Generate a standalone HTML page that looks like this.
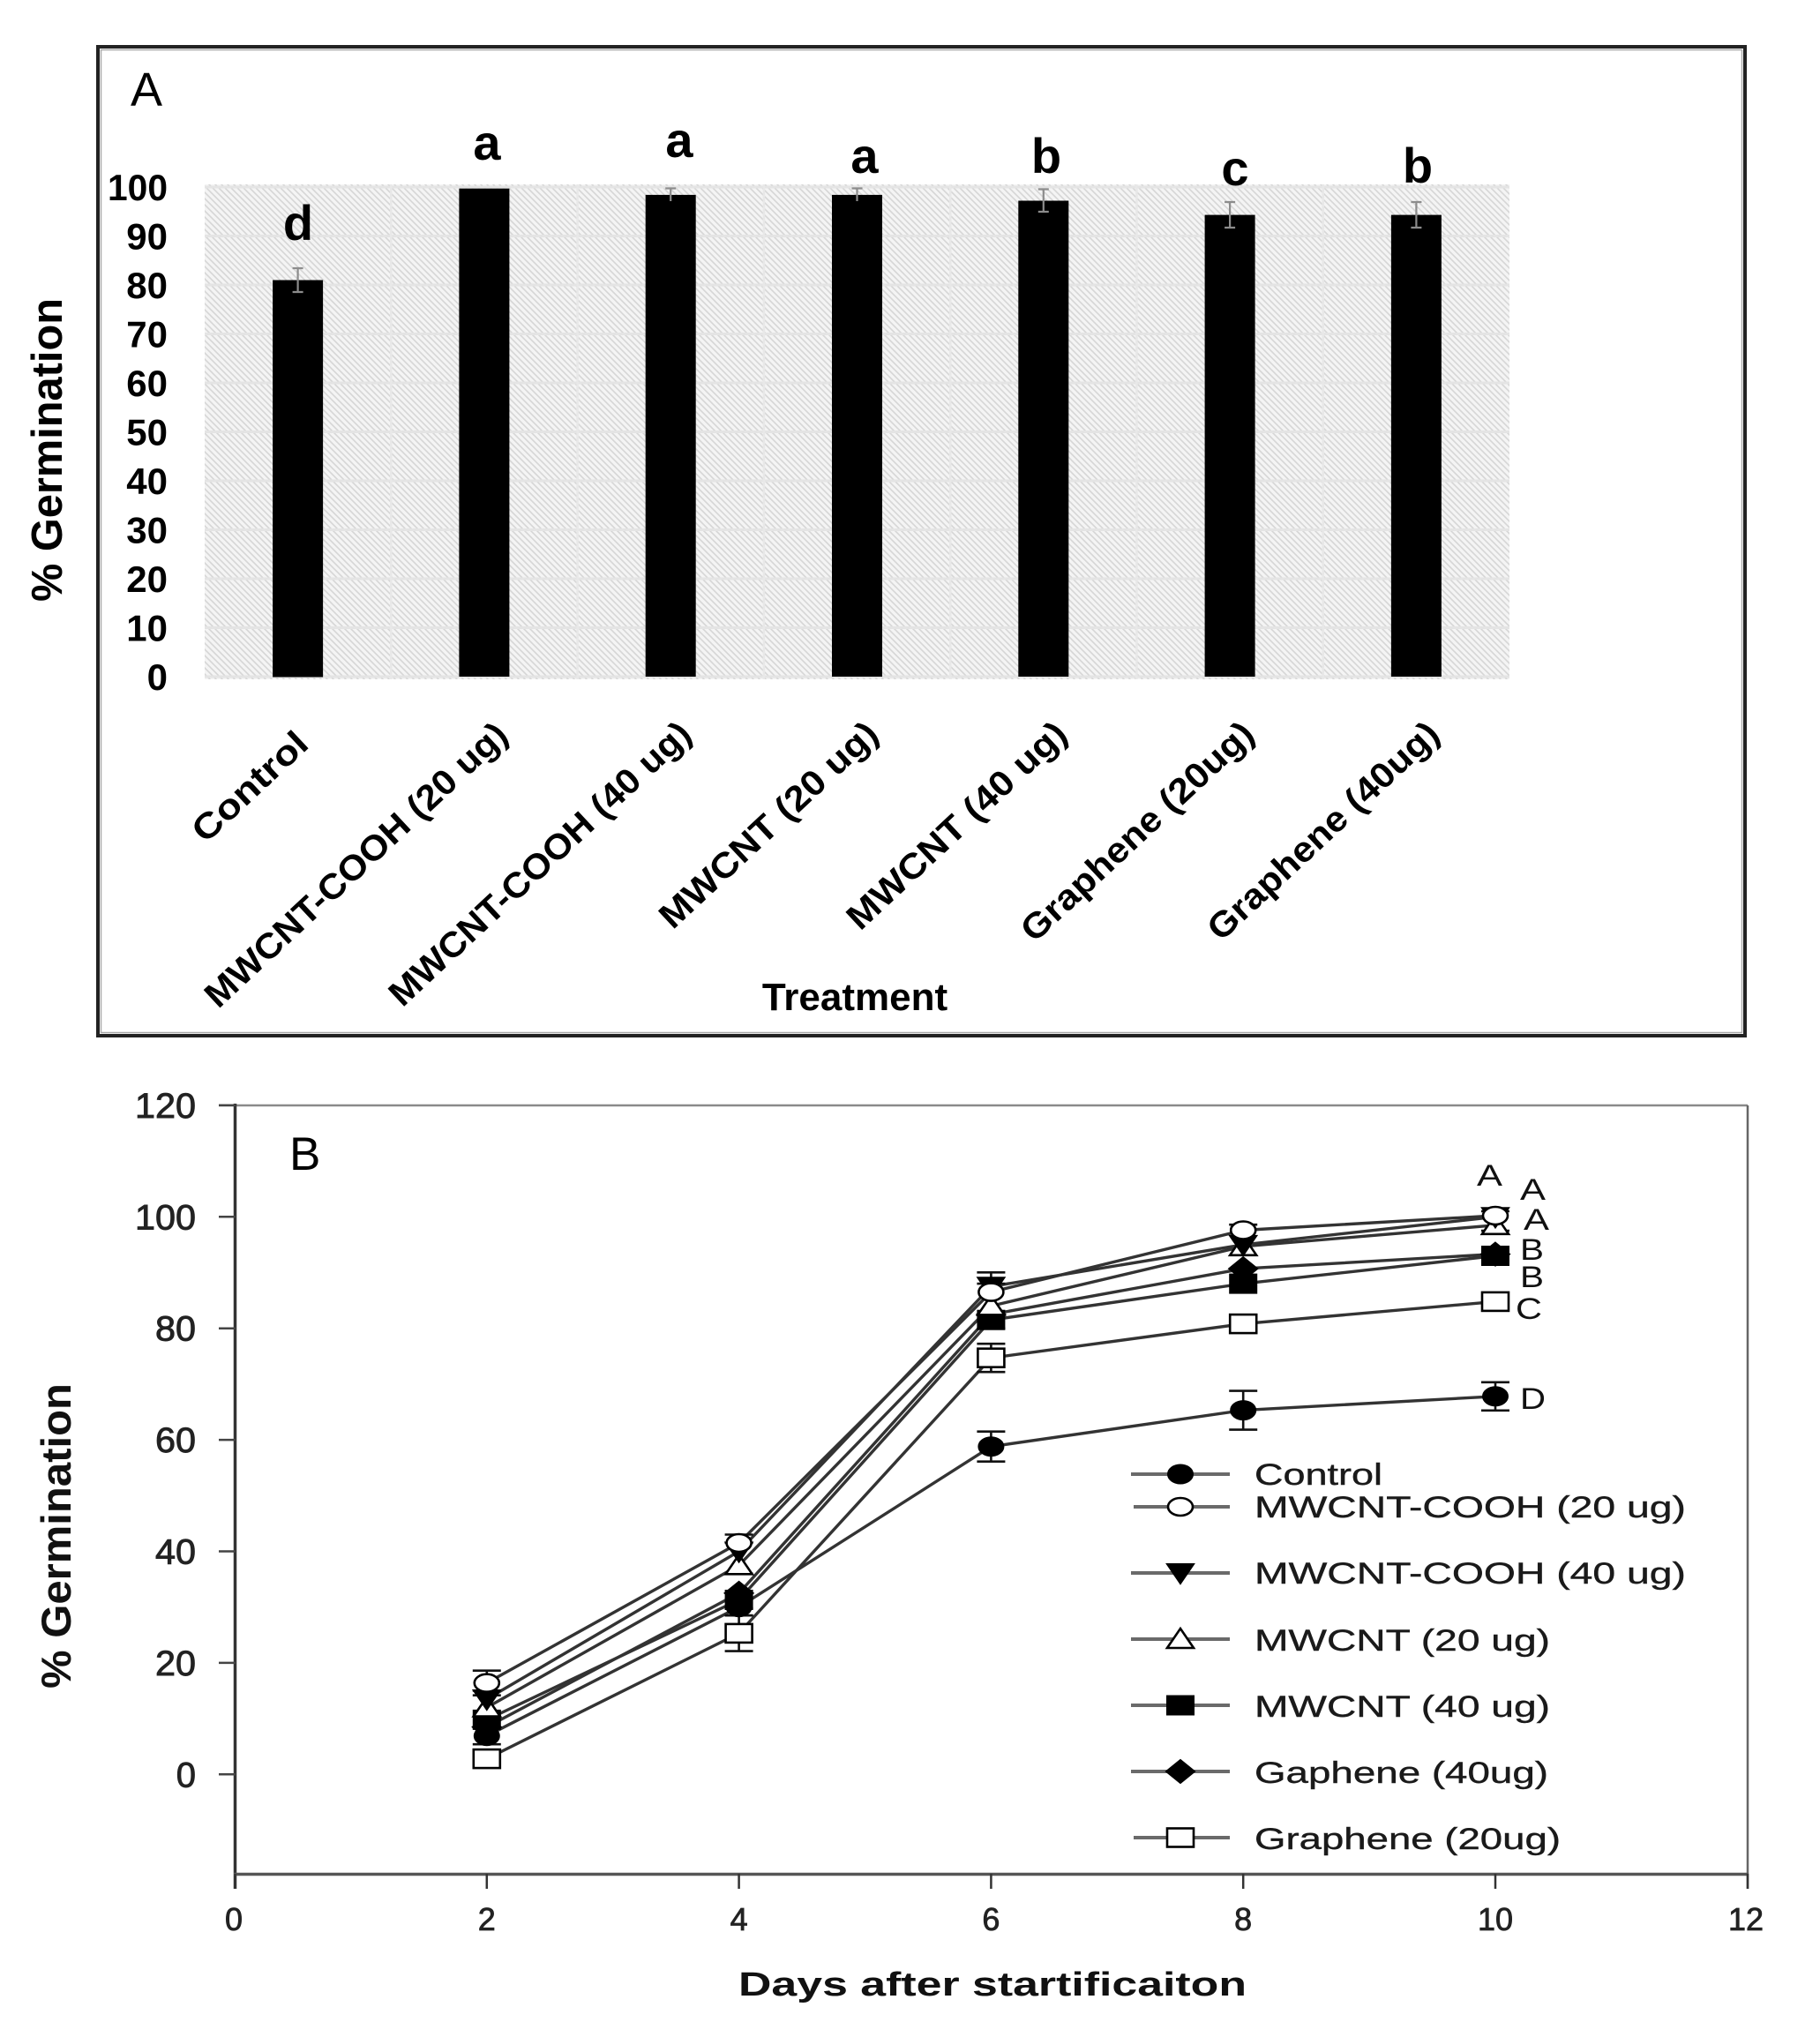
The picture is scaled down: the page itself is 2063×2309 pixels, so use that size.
<!DOCTYPE html>
<html><head><meta charset="utf-8"><style>
html,body{margin:0;padding:0;background:#fff;}
svg{display:block;}
</style></head><body>
<svg width="2063" height="2309" viewBox="0 0 2063 2309" xmlns="http://www.w3.org/2000/svg">
<defs>
<pattern id="hatch" width="7" height="7" patternUnits="userSpaceOnUse">
<rect width="7" height="7" fill="#f4f4f4"/>
<path d="M-1,6 L1,8 M0,0 L7,7 M6,-1 L8,1" stroke="#d6d6d6" stroke-width="1.6"/>
</pattern>
<ellipse id="mCircF" cx="0" cy="0" rx="14" ry="10.5" fill="#000" stroke="#000" stroke-width="2"/>
<ellipse id="mCircO" cx="0" cy="0" rx="14" ry="10" fill="#fff" stroke="#000" stroke-width="2.6"/>
<polygon id="mTriD" points="-15,-10 15,-10 0,12" fill="#000" stroke="#000" stroke-width="2"/>
<polygon id="mTriO" points="-15,10 15,10 0,-12" fill="#fff" stroke="#000" stroke-width="2.6"/>
<rect id="mSqF" x="-15" y="-10.5" width="30" height="21" fill="#000" stroke="#000" stroke-width="2"/>
<polygon id="mDia" points="0,-13 16,0 0,13 -16,0" fill="#000" stroke="#000" stroke-width="2"/>
<rect id="mSqO" x="-15" y="-10.5" width="30" height="21" fill="#fff" stroke="#000" stroke-width="2.6"/>
</defs>

<!-- ================= PANEL A ================= -->
<rect x="111" y="53" width="1867" height="1121" fill="#fff" stroke="#222" stroke-width="4"/>
<rect x="114.5" y="56.5" width="1860" height="1114" fill="none" stroke="#a8a8a8" stroke-width="1.5"/>

<text x="148" y="120" font-family="Liberation Sans, Arial, sans-serif" font-size="54" fill="#000">A</text>

<rect x="232" y="209" width="1479" height="561" fill="url(#hatch)"/>
<g stroke="#e4e4e4" stroke-width="3">
<line x1="232" y1="767" x2="1711" y2="767"/>
<line x1="232" y1="711.5" x2="1711" y2="711.5"/>
<line x1="232" y1="656" x2="1711" y2="656"/>
<line x1="232" y1="600.5" x2="1711" y2="600.5"/>
<line x1="232" y1="545" x2="1711" y2="545"/>
<line x1="232" y1="489.5" x2="1711" y2="489.5"/>
<line x1="232" y1="434" x2="1711" y2="434"/>
<line x1="232" y1="378.5" x2="1711" y2="378.5"/>
<line x1="232" y1="323" x2="1711" y2="323"/>
<line x1="232" y1="267.5" x2="1711" y2="267.5"/>
<line x1="232" y1="212" x2="1711" y2="212"/>
</g>
<g stroke="#e8e8e8" stroke-width="2.5">
<line x1="443.3" y1="209" x2="443.3" y2="770"/>
<line x1="654.6" y1="209" x2="654.6" y2="770"/>
<line x1="865.9" y1="209" x2="865.9" y2="770"/>
<line x1="1077.2" y1="209" x2="1077.2" y2="770"/>
<line x1="1288.4" y1="209" x2="1288.4" y2="770"/>
<line x1="1499.7" y1="209" x2="1499.7" y2="770"/>
</g>

<g fill="#000">
<rect x="309.1" y="317.5" width="57" height="450"/>
<rect x="520.4" y="213.7" width="57" height="553.3"/>
<rect x="731.7" y="220.9" width="57" height="546.1"/>
<rect x="943.0" y="220.9" width="57" height="546.1"/>
<rect x="1154.3" y="227.5" width="57" height="539.5"/>
<rect x="1365.6" y="243.6" width="57" height="523.4"/>
<rect x="1576.9" y="243.6" width="57" height="523.4"/>
</g>
<g stroke="#8c8c8c" stroke-width="2.2" fill="none">
<path d="M337.6 304V331M331.6 304H343.6M331.6 331H343.6"/>
<path d="M760.2 213.5V228M754.2 213.5H766.2"/>
<path d="M971.5 213.5V228M965.5 213.5H977.5"/>
<path d="M1182.8 214.5V240M1176.8 214.5H1188.8M1176.8 240H1188.8"/>
<path d="M1394.1 229V258M1388.1 229H1400.1M1388.1 258H1400.1"/>
<path d="M1605.4 229V258M1599.4 229H1611.4M1599.4 258H1611.4"/>
</g>

<g font-family="Liberation Sans, Arial, sans-serif" font-weight="bold" font-size="56" fill="#000" text-anchor="middle">
<text x="338" y="272">d</text>
<text x="552" y="181">a</text>
<text x="770" y="178">a</text>
<text x="980" y="196">a</text>
<text x="1186" y="196">b</text>
<text x="1400" y="210">c</text>
<text x="1607" y="207">b</text>
</g>

<g font-family="Liberation Sans, Arial, sans-serif" font-weight="bold" font-size="42" fill="#000" text-anchor="end">
<text x="190" y="782">0</text>
<text x="190" y="726.5">10</text>
<text x="190" y="671">20</text>
<text x="190" y="615.5">30</text>
<text x="190" y="560">40</text>
<text x="190" y="504.5">50</text>
<text x="190" y="449">60</text>
<text x="190" y="393.5">70</text>
<text x="190" y="338">80</text>
<text x="190" y="282.5">90</text>
<text x="190" y="227" textLength="68" lengthAdjust="spacingAndGlyphs">100</text>
</g>

<text transform="translate(70,510) rotate(-90)" text-anchor="middle" font-family="Liberation Sans, Arial, sans-serif" font-weight="bold" font-size="49" fill="#000" textLength="344" lengthAdjust="spacingAndGlyphs">% Germination</text>

<g font-family="Liberation Sans, Arial, sans-serif" font-weight="bold" font-size="40" fill="#000" text-anchor="end">
<text transform="translate(352,846) rotate(-43)" textLength="163" lengthAdjust="spacingAndGlyphs">Control</text>
<text transform="translate(578,836) rotate(-43)" textLength="452" lengthAdjust="spacingAndGlyphs">MWCNT-COOH (20 ug)</text>
<text transform="translate(786,835) rotate(-43)" textLength="451" lengthAdjust="spacingAndGlyphs">MWCNT-COOH (40 ug)</text>
<text transform="translate(998,835) rotate(-43)" textLength="322" lengthAdjust="spacingAndGlyphs">MWCNT (20 ug)</text>
<text transform="translate(1212,835) rotate(-43)" textLength="324" lengthAdjust="spacingAndGlyphs">MWCNT (40 ug)</text>
<text transform="translate(1424,835) rotate(-43)" textLength="344" lengthAdjust="spacingAndGlyphs">Graphene (20ug)</text>
<text transform="translate(1634,835) rotate(-43)" textLength="342" lengthAdjust="spacingAndGlyphs">Graphene (40ug)</text>
</g>
<text x="969" y="1145" text-anchor="middle" font-family="Liberation Sans, Arial, sans-serif" font-weight="bold" font-size="44" fill="#000">Treatment</text>

<!-- ================= PANEL B ================= -->
<line x1="248" y1="1253" x2="1981" y2="1253" stroke="#8a8a8a" stroke-width="2.5"/>
<line x1="1981" y1="1253" x2="1981" y2="2141" stroke="#666" stroke-width="2.5"/>
<line x1="266.5" y1="1251" x2="266.5" y2="2141" stroke="#333" stroke-width="3.5"/>
<line x1="265" y1="2124.5" x2="1982" y2="2124.5" stroke="#555" stroke-width="3.5"/>

<g stroke="#444" stroke-width="2.5">
<line x1="248" y1="2011.3" x2="267" y2="2011.3"/>
<line x1="248" y1="1884.9" x2="267" y2="1884.9"/>
<line x1="248" y1="1758.5" x2="267" y2="1758.5"/>
<line x1="248" y1="1632.1" x2="267" y2="1632.1"/>
<line x1="248" y1="1505.7" x2="267" y2="1505.7"/>
<line x1="248" y1="1379.3" x2="267" y2="1379.3"/>
<line x1="248" y1="1252.9" x2="267" y2="1252.9"/>
</g>
<g stroke="#333" stroke-width="2.5">
<line x1="266.5" y1="2124" x2="266.5" y2="2141"/>
<line x1="551.8" y1="2124" x2="551.8" y2="2141"/>
<line x1="837.6" y1="2124" x2="837.6" y2="2141"/>
<line x1="1123.4" y1="2124" x2="1123.4" y2="2141"/>
<line x1="1409.2" y1="2124" x2="1409.2" y2="2141"/>
<line x1="1695" y1="2124" x2="1695" y2="2141"/>
<line x1="1981" y1="2124" x2="1981" y2="2141"/>
</g>

<g font-family="Liberation Sans, Arial, sans-serif" font-size="40" fill="#222" stroke="#222" stroke-width="0.9" text-anchor="end">
<text x="222" y="2025.3">0</text>
<text x="222" y="1898.9" textLength="46" lengthAdjust="spacingAndGlyphs">20</text>
<text x="222" y="1772.5" textLength="46" lengthAdjust="spacingAndGlyphs">40</text>
<text x="222" y="1646.1" textLength="46" lengthAdjust="spacingAndGlyphs">60</text>
<text x="222" y="1519.7" textLength="46" lengthAdjust="spacingAndGlyphs">80</text>
<text x="222" y="1393.3" textLength="69" lengthAdjust="spacingAndGlyphs">100</text>
<text x="222" y="1266.9" textLength="69" lengthAdjust="spacingAndGlyphs">120</text>
</g>
<g font-family="Liberation Sans, Arial, sans-serif" font-size="36" fill="#222" stroke="#222" stroke-width="0.8" text-anchor="middle">
<text x="265" y="2188">0</text>
<text x="551.8" y="2188">2</text>
<text x="837.6" y="2188">4</text>
<text x="1123.4" y="2188">6</text>
<text x="1409.2" y="2188">8</text>
<text x="1695" y="2188">10</text>
<text x="1979" y="2188">12</text>
</g>

<text x="837" y="2262" font-family="Liberation Sans, Arial, sans-serif" font-weight="bold" font-size="38" fill="#111" textLength="576" lengthAdjust="spacingAndGlyphs">Days after startificaiton</text>
<text transform="translate(80,1741) rotate(-90)" text-anchor="middle" font-family="Liberation Sans, Arial, sans-serif" font-weight="bold" font-size="47" fill="#111" textLength="346" lengthAdjust="spacingAndGlyphs">% Germination</text>
<text x="328" y="1326" font-family="Liberation Sans, Arial, sans-serif" font-size="53" fill="#000">B</text>

<g fill="none" stroke="#333" stroke-width="3.4">
<polyline points="551.8,1967.7 837.6,1821.7 1123.4,1639.7 1409.2,1598.6 1695,1582.8"/>
<polyline points="551.8,1907.7 837.6,1749.0 1123.4,1464.6 1409.2,1394.5 1695,1378.0"/>
<polyline points="551.8,1926.0 837.6,1758.5 1123.4,1458.3 1409.2,1410.9 1695,1379.3"/>
<polyline points="551.8,1935.5 837.6,1774.3 1123.4,1480.4 1409.2,1412.8 1695,1388.8"/>
<polyline points="551.8,1949.4 837.6,1813.5 1123.4,1496.2 1409.2,1455.1 1695,1423.5"/>
<polyline points="551.8,1957.6 837.6,1805.9 1123.4,1489.9 1409.2,1438.1 1695,1421.6"/>
<polyline points="551.8,1993.6 837.6,1851.4 1123.4,1539.2 1409.2,1500.6 1695,1475.4"/>
</g>

<g fill="none" stroke="#111" stroke-width="2.6">
<path d="M551.8 1958.2V1977.2M535.8 1958.2H567.8M535.8 1977.2H567.8 M837.6 1812.2V1831.2M821.6 1812.2H853.6M821.6 1831.2H853.6 M1123.4 1622.7V1656.7M1107.4 1622.7H1139.4M1107.4 1656.7H1139.4 M1409.2 1576.6V1620.6M1393.2 1576.6H1425.2M1393.2 1620.6H1425.2 M1695 1566.8V1598.8M1679 1566.8H1711M1679 1598.8H1711"/>
<path d="M551.8 1893.7V1921.7M535.8 1893.7H567.8M535.8 1921.7H567.8 M837.6 1739.5V1758.5M821.6 1739.5H853.6 M1123.4 1455.1V1474.1M1107.4 1455.1H1139.4 M1409.2 1388.2V1400.8M1393.2 1388.2H1425.2 M1695 1373V1383M1679 1373H1711"/>
<path d="M551.8 1916.5V1935.5M535.8 1916.5H567.8 M837.6 1749V1768M821.6 1749H853.6 M1123.4 1442.3V1474.3M1107.4 1442.3H1139.4 M1409.2 1404.6V1417.2 M1695 1374.3V1384.3"/>
<path d="M551.8 1926V1945M535.8 1945H567.8 M837.6 1764.8V1783.8M821.6 1783.8H853.6 M1123.4 1470.9V1489.9 M1409.2 1406.5V1419.1 M1695 1382.5V1395.1M1679 1395.1H1711"/>
<path d="M551.8 1941.8V1957 M837.6 1804V1823M821.6 1823H853.6 M1123.4 1486.7V1505.7M1107.4 1505.7H1139.4 M1409.2 1448.8V1461.4 M1695 1417.2V1429.8"/>
<path d="M551.8 1950V1965.2 M837.6 1796.4V1815.4 M1123.4 1480.4V1499.4 M1409.2 1431.8V1444.4 M1695 1415.3V1427.9"/>
<path d="M551.8 1986V2001.2M535.8 2001.2H567.8 M837.6 1831.2V1871.6M821.6 1831.2H853.6M821.6 1871.6H853.6 M1123.4 1523.2V1555.2M1107.4 1523.2H1139.4M1107.4 1555.2H1139.4 M1409.2 1494.3V1506.9 M1695 1470.4V1480.4"/>
</g>

<use href="#mSqO" x="551.8" y="1993.6"/><use href="#mSqO" x="837.6" y="1851.4"/><use href="#mSqO" x="1123.4" y="1539.2"/><use href="#mSqO" x="1409.2" y="1500.6"/><use href="#mSqO" x="1695" y="1475.4"/>
<use href="#mCircF" x="551.8" y="1967.7"/><use href="#mCircF" x="837.6" y="1821.7"/><use href="#mCircF" x="1123.4" y="1639.7"/><use href="#mCircF" x="1409.2" y="1598.6"/><use href="#mCircF" x="1695" y="1582.8"/>
<use href="#mDia" x="551.8" y="1957.6"/><use href="#mDia" x="837.6" y="1805.9"/><use href="#mDia" x="1123.4" y="1489.9"/><use href="#mDia" x="1409.2" y="1438.1"/><use href="#mDia" x="1695" y="1421.6"/>
<use href="#mSqF" x="551.8" y="1949.4"/><use href="#mSqF" x="837.6" y="1813.5"/><use href="#mSqF" x="1123.4" y="1496.2"/><use href="#mSqF" x="1409.2" y="1455.1"/><use href="#mSqF" x="1695" y="1423.5"/>
<use href="#mTriO" x="551.8" y="1935.5"/><use href="#mTriO" x="837.6" y="1774.3"/><use href="#mTriO" x="1123.4" y="1480.4"/><use href="#mTriO" x="1409.2" y="1412.8"/><use href="#mTriO" x="1695" y="1388.8"/>
<use href="#mTriD" x="551.8" y="1926.0"/><use href="#mTriD" x="837.6" y="1758.5"/><use href="#mTriD" x="1123.4" y="1458.3"/><use href="#mTriD" x="1409.2" y="1410.9"/><use href="#mTriD" x="1695" y="1379.3"/>
<use href="#mCircO" x="551.8" y="1907.7"/><use href="#mCircO" x="837.6" y="1749.0"/><use href="#mCircO" x="1123.4" y="1464.6"/><use href="#mCircO" x="1409.2" y="1394.5"/><use href="#mCircO" x="1695" y="1378.0"/>

<g font-family="Liberation Sans, Arial, sans-serif" font-size="34" fill="#111">
<text x="1674" y="1344" textLength="29" lengthAdjust="spacingAndGlyphs">A</text>
<text x="1723" y="1360" textLength="29" lengthAdjust="spacingAndGlyphs">A</text>
<text x="1727" y="1394" textLength="29" lengthAdjust="spacingAndGlyphs">A</text>
<text x="1723" y="1428" textLength="27" lengthAdjust="spacingAndGlyphs">B</text>
<text x="1723" y="1459" textLength="27" lengthAdjust="spacingAndGlyphs">B</text>
<text x="1718" y="1495" textLength="30" lengthAdjust="spacingAndGlyphs">C</text>
<text x="1723" y="1597" textLength="29" lengthAdjust="spacingAndGlyphs">D</text>
</g>

<g stroke="#6a6a6a" stroke-width="4">
<line x1="1282" y1="1671" x2="1394" y2="1671"/>
<line x1="1285" y1="1708" x2="1394" y2="1708"/>
<line x1="1282" y1="1783" x2="1394" y2="1783"/>
<line x1="1282" y1="1858" x2="1394" y2="1858"/>
<line x1="1282" y1="1933" x2="1394" y2="1933"/>
<line x1="1282" y1="2008" x2="1394" y2="2008"/>
<line x1="1285" y1="2083" x2="1394" y2="2083"/>
</g>
<use href="#mCircF" x="1338" y="1671"/>
<use href="#mCircO" x="1338" y="1708"/>
<use href="#mTriD" x="1338" y="1783"/>
<use href="#mTriO" x="1338" y="1858"/>
<use href="#mSqF" x="1338" y="1933"/>
<use href="#mDia" x="1338" y="2008"/>
<use href="#mSqO" x="1338" y="2083"/>
<g font-family="Liberation Sans, Arial, sans-serif" font-size="34" fill="#1a1a1a" stroke="#1a1a1a" stroke-width="0.4">
<text x="1422" y="1683" textLength="145" lengthAdjust="spacingAndGlyphs">Control</text>
<text x="1422" y="1720" textLength="489" lengthAdjust="spacingAndGlyphs">MWCNT-COOH (20 ug)</text>
<text x="1422" y="1795" textLength="489" lengthAdjust="spacingAndGlyphs">MWCNT-COOH (40 ug)</text>
<text x="1422" y="1871" textLength="335" lengthAdjust="spacingAndGlyphs">MWCNT (20 ug)</text>
<text x="1422" y="1946" textLength="335" lengthAdjust="spacingAndGlyphs">MWCNT (40 ug)</text>
<text x="1422" y="2021" textLength="333" lengthAdjust="spacingAndGlyphs">Gaphene (40ug)</text>
<text x="1422" y="2096" textLength="347" lengthAdjust="spacingAndGlyphs">Graphene (20ug)</text>
</g>
</svg>
</body></html>
